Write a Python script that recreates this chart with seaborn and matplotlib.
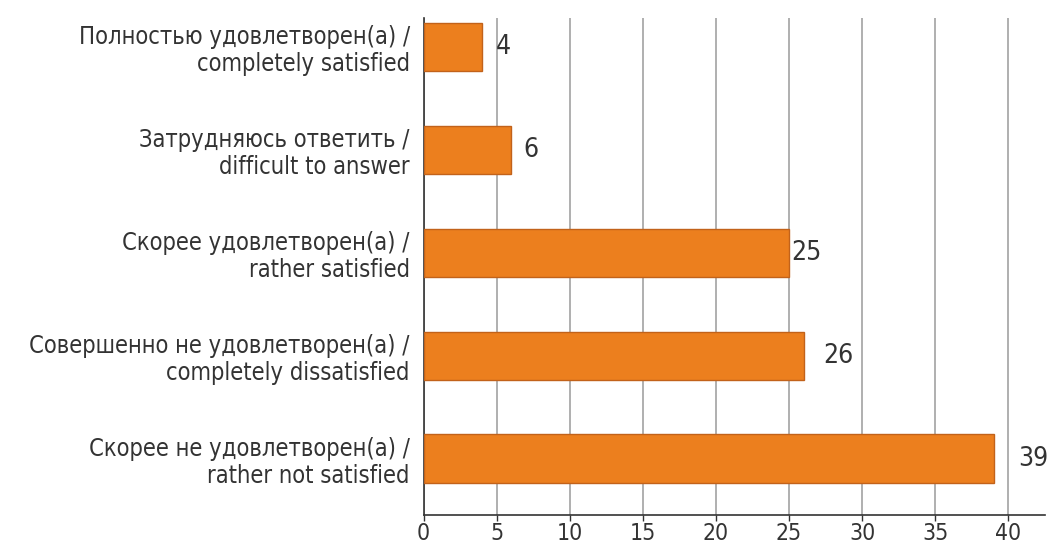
import matplotlib
matplotlib.use("Agg")
import matplotlib.pyplot as plt
import seaborn as sns
import pandas as pd

categories = [
    "Полностью удовлетворен(а) /\ncompletely satisfied",
    "Затрудняюсь ответить /\ndifficult to answer",
    "Скорее удовлетворен(а) /\nrather satisfied",
    "Совершенно не удовлетворен(а) /\ncompletely dissatisfied",
    "Скорее не удовлетворен(а) /\nrather not satisfied",
]
values = [4, 6, 25, 26, 39]
x_ticks = [0, 5, 10, 15, 20, 25, 30, 35, 40]

label_pad = [10, 9, 2, 14, 18]

sns.set_theme(style="white")
plt.rcParams['font.family'] = ['DejaVu Sans']
plt.rcParams['font.stretch'] = 'condensed'
text_color = "#333333"

df = pd.DataFrame({"category": categories, "value": values})

fig = plt.figure(figsize=(10.51, 5.47), dpi=100)
ax = fig.add_axes([0.403, 0.058, 0.591, 0.909])

sns.barplot(data=df, y="category", x="value", orient="h", color="#EC7F1E",
            saturation=1, width=0.47, edgecolor="#C2621A", linewidth=1.0, ax=ax, zorder=3)

for cont in ax.containers:
    for bar, v, p in zip(cont, values, label_pad):
        ax.annotate(str(v), (bar.get_width(), bar.get_y() + bar.get_height() / 2),
                    xytext=(p, 0), textcoords="offset points", ha="left", va="center",
                    fontsize=19, color=text_color)

ax.set_xlim(0, 42.5)
ax.set_ylim(4.55, -0.28)
ax.set_xticks(x_ticks)
ax.set_xticklabels([str(t) for t in x_ticks], fontsize=16.5, color=text_color)
ax.tick_params(axis="x", direction="out", length=4, width=1, color=text_color, pad=0.5, bottom=True)
ax.tick_params(axis="y", length=0, pad=10, labelsize=17, labelcolor=text_color)
for lab in ax.get_yticklabels():
    lab.set_horizontalalignment("right")
    lab.set_multialignment("right")
    lab.set_linespacing(1.15)

ax.xaxis.grid(True, color="#9a9a9a", linewidth=1.1, zorder=0)
ax.yaxis.grid(False)
ax.set_axisbelow(True)
for s in ["top", "right"]:
    ax.spines[s].set_visible(False)
for s in ["left", "bottom"]:
    ax.spines[s].set_color(text_color)
    ax.spines[s].set_linewidth(1.2)
ax.set_xlabel("")
ax.set_ylabel("")

fig.savefig("out.png", dpi=100)
